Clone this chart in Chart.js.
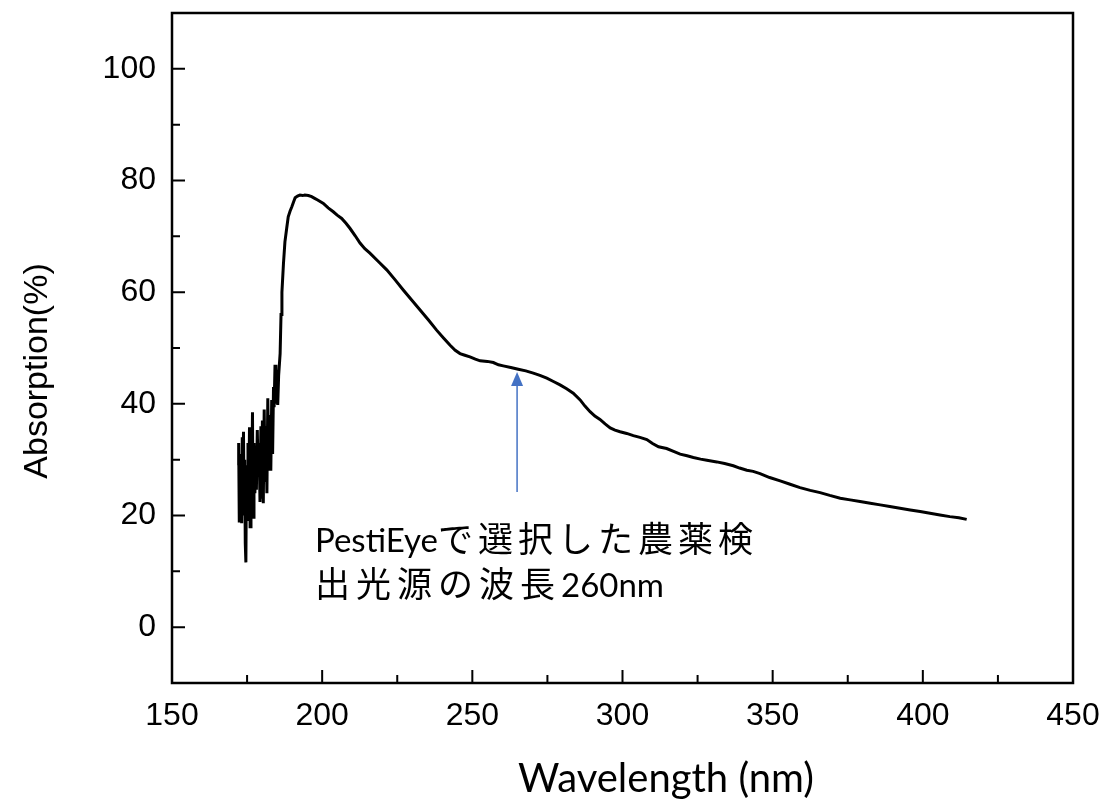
<!DOCTYPE html>
<html>
<head>
<meta charset="utf-8">
<script src="https://cdn.jsdelivr.net/npm/chart.js@4"></script>
<style>
  html, body { margin: 0; padding: 0; background: #fff; }
  #wrap { width: 1106px; height: 805px; }
</style>
</head>
<body>
<div id="wrap"><canvas id="chart" width="1106" height="805"></canvas></div>
<script>
// wavelength (nm) / absorption (%)
const wavelength = [
  172.0, 172.2, 172.4, 172.6, 172.8, 173.0, 173.2, 173.4, 173.6, 173.8,
  174.0, 174.2, 174.4, 174.6, 174.8, 175.0, 175.3, 175.5, 175.8, 176.0,
  176.3, 176.5, 176.8, 177.0, 177.3, 177.6, 177.9, 178.1, 178.4, 178.7,
  179.0, 179.3, 179.6, 179.8, 180.1, 180.4, 180.7, 181.0, 181.3, 181.6,
  181.9, 182.2, 182.6, 182.9, 183.2, 183.5, 183.8, 184.0, 184.3, 184.6,
  184.9, 185.2, 185.5, 186.0, 186.3, 186.6, 187.1, 187.6, 188.2, 188.7,
  189.3, 189.9, 190.5, 191.0, 191.8, 192.6, 193.5, 194.2, 195.4, 196.5,
  197.5, 198.5, 200.4, 202.0, 203.7, 205.0, 206.5, 208.0, 209.3, 211.0,
  212.6, 214.2, 215.9, 218.7, 221.5, 224.3, 227.0, 229.8, 232.6, 235.4,
  238.1, 240.4, 242.6, 244.3, 245.9, 247.5, 249.2, 251.0, 252.6, 255.0,
  257.0, 258.7, 260.3, 262.8, 265.3, 267.8, 270.3, 272.5, 274.8, 277.0,
  279.2, 281.4, 283.6, 285.9, 287.5, 289.2, 290.8, 292.5, 294.2, 295.9,
  297.5, 299.2, 301.4, 303.6, 305.8, 308.1, 310.0, 312.0, 314.7, 317.0,
  319.2, 321.5, 323.6, 326.0, 328.1, 331.4, 334.0, 336.9, 339.0, 341.4,
  343.5, 345.8, 349.0, 352.5, 355.8, 359.1, 362.5, 365.8, 369.0, 372.5,
  375.8, 379.1, 382.5, 385.8, 389.0, 392.4, 395.8, 399.1, 402.4, 405.7,
  409.0, 412.0, 414.6
];
const absorption = [
  29, 33, 19, 31, 22, 30, 18.6, 34, 20, 35,
  22, 30, 15, 11.6, 29, 21, 33, 19, 35.8, 18,
  31, 22, 38.5, 19.7, 33, 24, 32, 24.6, 35.3, 27,
  33, 22.4, 36, 23, 37, 22.2, 39, 26, 36, 24,
  41, 28, 38, 28, 40.7, 31, 43, 39.4, 47, 40,
  46, 39.8, 45, 49, 56, 60, 65, 69, 71.5, 73.5,
  74.5, 75.3, 76.2, 76.9, 77.2, 77.4, 77.3, 77.4, 77.3, 77.1,
  76.8, 76.5, 75.9, 75.1, 74.4, 73.8, 73.2, 72.3, 71.4, 70.1,
  68.8, 67.8, 67.0, 65.5, 64.0, 62.2, 60.4, 58.6, 56.8, 55.0,
  53.2, 51.8, 50.5, 49.6, 49.0, 48.7, 48.4, 48.0, 47.7, 47.6,
  47.4, 47.0, 46.8, 46.5, 46.2, 45.9, 45.5, 45.1, 44.6, 44.0,
  43.4, 42.7, 41.9, 40.7, 39.6, 38.6, 37.8, 37.2, 36.4, 35.7,
  35.3, 35.0, 34.7, 34.3, 34.0, 33.6, 32.9, 32.3, 32.0, 31.5,
  31.0, 30.7, 30.4, 30.1, 29.9, 29.6, 29.3, 28.9, 28.5, 28.1,
  27.9, 27.5, 26.8, 26.2, 25.6, 25.0, 24.5, 24.1, 23.6, 23.1,
  22.8, 22.5, 22.2, 21.9, 21.6, 21.3, 21.0, 20.7, 20.4, 20.1,
  19.8, 19.6, 19.3
];

const xTicks = [150, 200, 250, 300, 350, 400, 450];
const xMinor = [175, 225, 275, 325, 375, 425];
const yTicks = [0, 20, 40, 60, 80, 100];
const yMinor = [-10, 10, 30, 50, 70, 90, 110];

// arrow pointing at the 260 nm light source
const arrowX = 264.9;
const arrowFrom = 24.2;
const arrowTo = 45.7;

const points = wavelength.map((w, i) => ({ x: w, y: absorption[i] }));

function drawRuns(ctx, runs, x, y) {
  runs.forEach(r => {
    ctx.font = r.font;
    if ('letterSpacing' in ctx) ctx.letterSpacing = (r.spacing || 0) + 'px';
    ctx.fillText(r.text, x, y);
    x += ctx.measureText(r.text).width;
  });
  if ('letterSpacing' in ctx) ctx.letterSpacing = '0px';
}

function noPad(s) {
  s.paddingTop = 0; s.paddingBottom = 0;
  s.paddingLeft = 0; s.paddingRight = 0;
}

const decor = {
  id: 'decor',
  afterDraw(chart) {
    const ctx = chart.ctx;
    const a = chart.chartArea;
    const xs = chart.scales.x, ys = chart.scales.y;
    ctx.save();
    ctx.strokeStyle = '#000';
    ctx.lineWidth = 2.5;
    ctx.strokeRect(a.left, a.top, a.right - a.left, a.bottom - a.top);

    ctx.lineWidth = 2;
    ctx.beginPath();
    xTicks.forEach(v => { const p = xs.getPixelForValue(v); ctx.moveTo(p, a.bottom); ctx.lineTo(p, a.bottom - 13); });
    xMinor.forEach(v => { const p = xs.getPixelForValue(v); ctx.moveTo(p, a.bottom); ctx.lineTo(p, a.bottom - 8); });
    yTicks.forEach(v => { const p = ys.getPixelForValue(v); ctx.moveTo(a.left, p); ctx.lineTo(a.left + 13, p); });
    yMinor.forEach(v => { const p = ys.getPixelForValue(v); ctx.moveTo(a.left, p); ctx.lineTo(a.left + 8, p); });
    ctx.stroke();

    // arrow
    const ax = xs.getPixelForValue(arrowX);
    const ay0 = ys.getPixelForValue(arrowFrom);
    const ay1 = ys.getPixelForValue(arrowTo);
    ctx.strokeStyle = '#4472C4';
    ctx.fillStyle = '#4472C4';
    ctx.lineWidth = 1.5;
    ctx.beginPath();
    ctx.moveTo(ax, ay0);
    ctx.lineTo(ax, ay1 + 12);
    ctx.stroke();
    ctx.beginPath();
    ctx.moveTo(ax, ay1);
    ctx.lineTo(ax - 6, ay1 + 14);
    ctx.lineTo(ax + 6, ay1 + 14);
    ctx.closePath();
    ctx.fill();

    // axis titles
    ctx.fillStyle = '#000';
    ctx.textAlign = 'center';
    ctx.textBaseline = 'middle';
    ctx.font = '40px Lato, "Open Sans", sans-serif';
    ctx.fillText('Wavelength (nm)', 666, 779);

    ctx.save();
    ctx.translate(38, 371);
    ctx.rotate(-Math.PI / 2);
    ctx.font = '34px "Liberation Sans", Arial, sans-serif';
    ctx.fillText('Absorption(%)', 0, 0);
    ctx.restore();

    // annotation
    ctx.textAlign = 'left';
    ctx.textBaseline = 'alphabetic';
    const lat = '33px Lato, "Noto Sans CJK JP", sans-serif';
    const jp = '35px "Noto Sans CJK JP", sans-serif';
    drawRuns(ctx, [
      { text: 'PestiEye', font: lat },
      { text: 'で選択した農薬検', font: jp, spacing: 5 }
    ], 315, 552);
    drawRuns(ctx, [
      { text: '出光源の波長', font: jp, spacing: 6 },
      { text: '260nm', font: lat }
    ], 315, 597);
    ctx.restore();
  }
};

new Chart(document.getElementById('chart'), {
  type: 'scatter',
  data: {
    datasets: [{
      data: points,
      showLine: true,
      borderColor: '#000',
      borderWidth: 3,
      pointRadius: 0,
      tension: 0
    }]
  },
  options: {
    responsive: false,
    animation: false,
    layout: { padding: { left: 0, top: 13, right: 33, bottom: 0 } },
    plugins: { legend: { display: false }, tooltip: { enabled: false } },
    scales: {
      x: {
        type: 'linear',
        min: 150,
        max: 450,
        afterBuildTicks: s => { s.ticks = xTicks.map(v => ({ value: v })); },
        afterFit: s => { s.height = 122; noPad(s); },
        grid: { display: false },
        border: { display: false },
        ticks: {
          color: '#000',
          padding: 6,
          maxRotation: 0,
          font: { family: '"Liberation Sans", Arial, sans-serif', size: 32 }
        }
      },
      y: {
        min: -10,
        max: 110,
        afterBuildTicks: s => { s.ticks = yTicks.map(v => ({ value: v })); },
        afterFit: s => { s.width = 172; noPad(s); },
        grid: { display: false },
        border: { display: false },
        ticks: {
          color: '#000',
          padding: 8,
          font: { family: '"Liberation Sans", Arial, sans-serif', size: 32 }
        }
      }
    }
  },
  plugins: [decor]
});
</script>
</body>
</html>
